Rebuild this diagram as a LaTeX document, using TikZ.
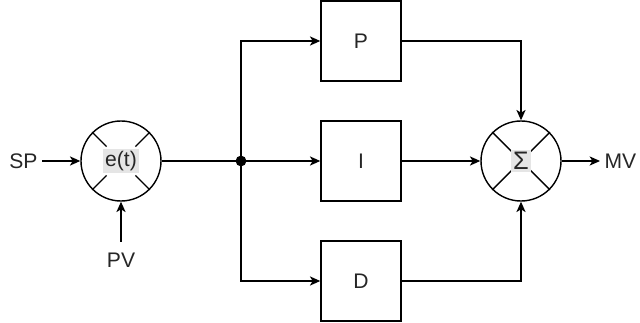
\documentclass[tikz,border=0pt]{standalone}
\usepackage{fontspec}
\setmainfont{Liberation Sans}
\usetikzlibrary{positioning, arrows.meta, calc}

\begin{document}
\begin{tikzpicture}[
  blk/.style={draw, line width=1pt, minimum width=2cm, minimum height=2cm,
              inner sep=0pt, text=black!85, font=\fontsize{15}{17}\selectfont},
  junc/.style={draw, circle, line width=1pt, minimum size=2cm, inner sep=0pt},
  jlabel/.style={fill=black!10, inner sep=1.5pt, text=black!85,
                 font=\fontsize{15}{17}\selectfont},
  sig/.style={inner sep=3pt, minimum height=0.9cm, text=black!85,
              font=\fontsize{15}{17}\selectfont},
  wire/.style={line width=1pt},
  link/.style={line width=1pt, -{Stealth[length=0.26cm, width=0.23cm, inset=0.07cm]}},
]
  % Layout: 1 cm = 40 px of the 640 x 322 frame
  \useasboundingbox (0,0) rectangle (16,8.05);

  % ═══ Error junction ═════════════════════════════════
  \node[junc] (et) at (3.025, 4.025) {};
  \foreach \a in {45, 135, 225, 315} {
    \draw[wire] (et.\a) -- ($(et.center)!0.5!(et.\a)$);
  }
  \node[jlabel] (et_lbl) at (et.center) {e(t)};

  % inputs
  \node[sig, anchor=east] (sp) at (1.05, 4.025) {SP};
  \node[sig] (pv) at (3.025, 1.55) {PV};

  % ═══ Branch point ═══════════════════════════════════
  \node[circle, fill=black, minimum size=0.27cm, inner sep=0pt] (split) at (6.025, 4.025) {};

  % ═══ P, I, D blocks ═════════════════════════════════
  \node[blk] (blk_p) at (9.025, 7.025) {P};
  \node[blk] (blk_i) at (9.025, 4.025) {I};
  \node[blk] (blk_d) at (9.025, 1.025) {D};

  % ═══ Summing junction ═══════════════════════════════
  \node[junc] (sum) at (13.025, 4.025) {};
  \foreach \a in {45, 135, 225, 315} {
    \draw[wire] (sum.\a) -- ($(sum.center)!0.3!(sum.\a)$);
  }
  \node[jlabel, font=\fontsize{18}{20}\selectfont] (sum_lbl) at (sum.center) {Σ};

  % output
  \node[sig, anchor=west] (mv) at (15.0, 4.025) {MV};

  % ═══ Links ══════════════════════════════════════════
  \draw[link] (sp.east) -- (et.west);
  \draw[link] (pv.north) -- (et.south);
  \draw[wire] (et.east) -- (split.center);
  \draw[link] (split.center) |- (blk_p.west);
  \draw[link] (split.center) -- (blk_i.west);
  \draw[link] (split.center) |- (blk_d.west);
  \draw[link] (blk_p.east) -| (sum.north);
  \draw[link] (blk_i.east) -- (sum.west);
  \draw[link] (blk_d.east) -| (sum.south);
  \draw[link] (sum.east) -- (mv.west);
\end{tikzpicture}
\end{document}
